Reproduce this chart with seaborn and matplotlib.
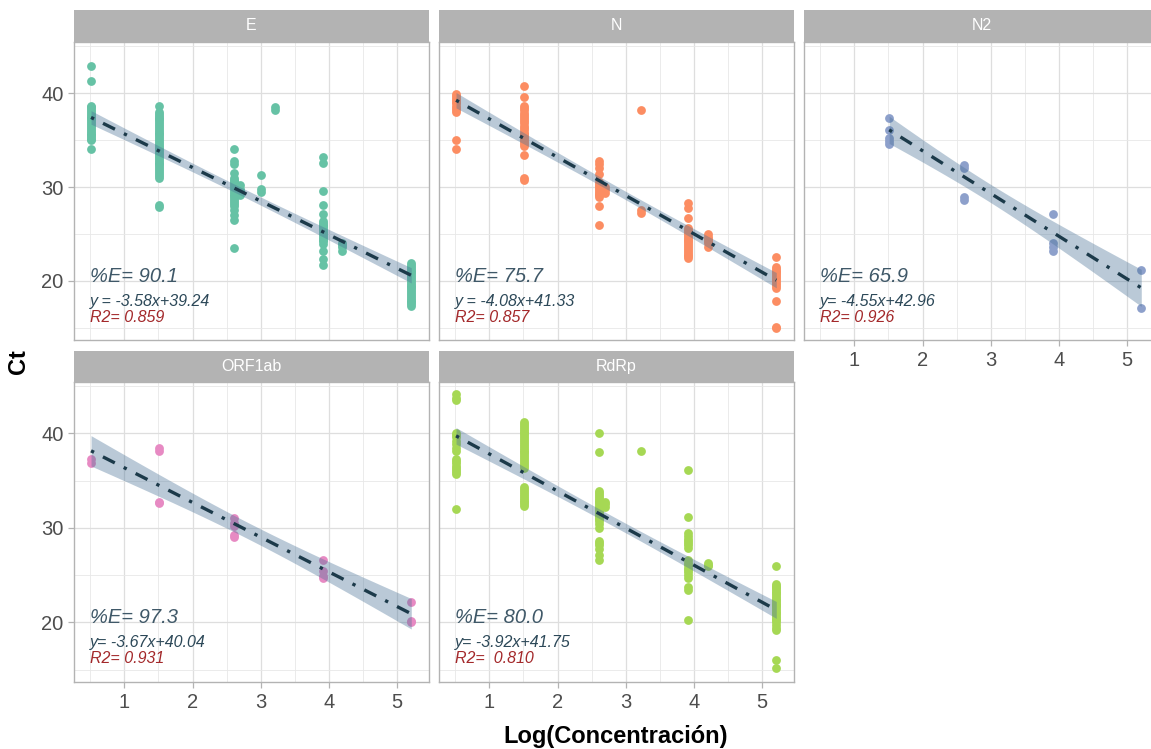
import numpy as np
import pandas as pd
import matplotlib
matplotlib.use("Agg")
import matplotlib.pyplot as plt
import seaborn as sns

# ---------------------------------------------------------------- data
GENES = ["E", "N", "N2", "ORF1ab", "RdRp"]
COLORS = ["#66C2A5", "#FC8D62", "#8DA0CB", "#E78AC3", "#A6D854"]

# Ct readings grouped by log10 concentration
E_CT = {
    0.51: [42.9, 41.3, 38.6, 38.5, 38.3, 38.1, 37.9, 37.7, 37.5, 37.3, 37.1,
           36.9, 36.7, 36.5, 36.3, 36.1, 35.9, 35.7, 35.5, 35.3, 35.1, 35.0,
           34.1],
    1.51: [38.6, 38.0, 37.8, 37.6, 37.4, 37.2, 37.0, 36.8, 36.6, 36.4, 36.2,
           36.0, 35.8, 35.6, 35.4, 35.2, 35.0, 34.8, 34.6, 34.4, 34.2, 34.0,
           33.8, 33.6, 33.4, 33.2, 33.0, 32.8, 32.6, 32.4, 32.2, 32.0, 31.8,
           31.6, 31.4, 31.2, 31.0, 28.1, 27.9],
    2.61: [34.1, 32.8, 32.4, 31.5, 31.0, 30.8, 30.6, 30.4, 30.2, 30.0, 29.8,
           29.6, 29.4, 29.2, 29.0, 28.8, 28.6, 28.4, 28.2, 28.0, 27.6, 27.0,
           26.5, 23.5],
    2.69: [30.2, 29.8, 29.6, 29.2],
    3.00: [31.3, 29.8, 29.5],
    3.21: [38.5, 38.2],
    3.91: [33.2, 32.6, 29.6, 28.1, 27.1, 26.4, 26.2, 26.0, 25.8, 25.6, 25.4,
           25.2, 25.0, 24.8, 24.6, 24.4, 24.2, 23.9, 23.2, 22.3, 21.7],
    4.20: [24.0, 23.8, 23.6, 23.2],
    5.21: [21.9, 21.7, 21.5, 21.3, 21.1, 20.9, 20.7, 20.5, 20.3, 20.1, 19.9,
           19.7, 19.5, 19.3, 19.1, 18.9, 18.7, 18.5, 18.3, 18.1, 17.9, 17.7,
           17.5, 17.3],
}
N_CT = {
    0.51: [39.9, 39.7, 39.5, 39.3, 39.1, 38.9, 38.6, 38.4, 38.2, 38.0, 35.0,
           34.1],
    1.51: [40.8, 39.6, 38.6, 38.4, 38.2, 37.9, 37.7, 37.5, 37.2, 37.0, 36.8,
           36.5, 36.3, 36.1, 35.8, 35.6, 35.4, 35.2, 35.0, 34.8, 34.6, 34.4,
           33.4, 31.0, 30.7],
    2.61: [32.8, 32.4, 32.0, 31.4, 30.5, 30.3, 30.1, 29.9, 29.7, 29.5, 29.3,
           29.1, 28.9, 28.0, 25.9],
    2.69: [30.0, 29.7, 29.4],
    3.22: [38.2, 27.6, 27.2],
    3.91: [28.3, 27.8, 26.7, 25.6, 25.4, 25.2, 25.0, 24.8, 24.6, 24.4, 24.2,
           24.0, 23.8, 23.6, 23.4, 23.2, 23.0, 22.8, 22.6, 22.4],
    4.21: [25.0, 24.7, 24.5, 24.2, 24.0, 23.6],
    5.21: [22.5, 21.5, 21.3, 21.1, 20.9, 20.7, 20.5, 20.3, 20.1, 19.9, 19.7,
           19.5, 19.2, 17.9, 15.1, 15.0],
}
N2_CT = {
    1.51: [37.4, 36.1, 35.2, 34.9, 34.6],
    2.61: [32.3, 32.0, 28.9, 28.6],
    3.91: [27.1, 24.0, 23.6, 23.2],
    5.21: [21.2, 17.1],
}
ORF1AB_CT = {
    0.51: [37.3, 36.9],
    1.51: [38.5, 38.1, 32.8, 32.6],
    2.61: [31.1, 30.5, 30.2, 29.3, 29.0],
    3.91: [26.6, 25.4, 24.9, 24.7],
    5.21: [22.2, 20.2, 20.0],
}
RDRP_CT = {
    0.51: [44.2, 43.8, 43.5, 40.0, 39.8, 39.6, 39.2, 38.9, 38.5, 38.2, 37.3,
           37.1, 36.9, 36.6, 36.4, 36.1, 35.9, 35.7, 32.0],
    1.51: [41.2, 41.0, 40.8, 40.6, 40.4, 40.2, 40.0, 39.8, 39.6, 39.4, 39.2,
           39.0, 38.8, 38.6, 38.4, 38.2, 38.0, 37.8, 37.6, 37.4, 37.2, 37.0,
           36.8, 36.6, 36.4, 34.3, 34.1, 33.9, 33.7, 33.5, 33.3, 33.1, 32.9,
           32.7, 32.5, 32.3],
    2.61: [40.0, 38.0, 33.9, 33.7, 33.5, 33.3, 33.1, 32.9, 32.7, 32.5, 32.3,
           32.1, 31.9, 31.7, 31.5, 31.3, 31.1, 30.9, 30.7, 30.4, 30.0, 28.6,
           28.4, 28.2, 27.8, 27.1, 26.6],
    2.69: [32.8, 32.5, 32.2],
    3.22: [38.2],
    3.91: [36.1, 31.2, 29.5, 29.1, 28.8, 28.6, 28.4, 28.2, 27.9, 26.6, 26.3,
           26.1, 25.8, 25.6, 25.3, 25.0, 24.7, 23.8, 23.4, 20.25],
    4.21: [26.3, 26.1, 26.0],
    5.21: [26.0, 24.1, 23.9, 23.8, 23.6, 23.4, 23.2, 23.1, 22.9, 22.7, 22.5,
           22.4, 22.2, 22.0, 21.8, 21.7, 21.5, 21.3, 21.1, 21.0, 20.8, 20.6,
           20.4, 20.3, 20.0, 19.7, 19.4, 19.2, 16.0, 15.2],
}
CT_BY_GENE = [E_CT, N_CT, N2_CT, ORF1AB_CT, RDRP_CT]

# standard curve fits: Ct = slope * log10(conc) + intercept
SLOPES = [-3.58, -4.08, -4.55, -3.67, -3.92]
INTERCEPTS = [39.24, 41.33, 42.96, 40.04, 41.75]
EFF_LABELS = ["%E= 90.1", "%E= 75.7", "%E= 65.9", "%E= 97.3", "%E= 80.0"]
EQ_LABELS = ["y = -3.58x+39.24", "y = -4.08x+41.33", "y= -4.55x+42.96",
             "y= -3.67x+40.04", "y= -3.92x+41.75"]
R2_LABELS = ["R2= 0.859", "R2= 0.857", "R2= 0.926", "R2= 0.931", "R2=  0.810"]

X_TICKS = [1, 2, 3, 4, 5]
Y_TICKS = [20, 30, 40]
X_LABEL = "Log(Concentración)"
Y_LABEL = "Ct"

# ---------------------------------------------------------------- style
sns.set_theme(style="white")
plt.rcParams["font.family"] = ["Liberation Sans", "DejaVu Sans"]

W, H = 1151, 749
fig = plt.figure(figsize=(W / 100, H / 100), dpi=100)


def box(left, top, right, bottom):
    return [left / W, 1 - bottom / H, (right - left) / W, (bottom - top) / H]


COL_LEFT = [74, 439, 804]
PANEL_W = 355
ROWS = [(10, 42, 340), (351, 382, 682)]   # strip top, panel top, panel bottom

LINE_COLOR = "#1c3a4a"
BAND_COLOR = "#4a7398"
GRID = "#DEDEDE"
FRAME = "#B3B3B3"


def t_quantile(df):
    z = 1.959964
    return (z + (z ** 3 + z) / (4 * df)
            + (5 * z ** 5 + 16 * z ** 3 + 3 * z) / (96 * df ** 2))


for i, gene in enumerate(GENES):
    row, col = divmod(i, 3)
    s_top, p_top, p_bot = ROWS[row]
    left = COL_LEFT[col]

    # facet strip
    sax = fig.add_axes(box(left, s_top, left + PANEL_W, p_top))
    sax.set_facecolor(FRAME)
    sax.set_xticks([]); sax.set_yticks([])
    for sp in sax.spines.values():
        sp.set_visible(False)
    sax.text(0.5, 0.5, gene, color="white", fontsize=11.5,
             ha="center", va="center", transform=sax.transAxes)

    ax = fig.add_axes(box(left, p_top, left + PANEL_W, p_bot))
    ct = CT_BY_GENE[i]
    df = pd.DataFrame([(x, y) for x, ys in ct.items() for y in ys],
                      columns=["logc", "ct"])

    sns.scatterplot(data=df, x="logc", y="ct", color=COLORS[i], s=40,
                    linewidth=0, ax=ax, zorder=3)

    # fitted line with 95% confidence band
    b, a = SLOPES[i], INTERCEPTS[i]
    x = df["logc"].to_numpy(); y = df["ct"].to_numpy()
    n = len(x)
    resid = y - (a + b * x)
    s = np.sqrt(np.sum(resid ** 2) / (n - 2))
    sxx = np.sum((x - x.mean()) ** 2)
    xs = np.linspace(x.min(), x.max(), 100)
    fit = a + b * xs
    half = t_quantile(n - 2) * s * np.sqrt(1 / n + (xs - x.mean()) ** 2 / sxx)
    ax.fill_between(xs, fit - half, fit + half, color=BAND_COLOR, alpha=0.38,
                    linewidth=0, zorder=4)
    ax.plot(xs, fit, color=LINE_COLOR, lw=2.4, linestyle=(0, (1, 3, 4, 3)),
            zorder=5)

    ax.text(0.5, 20.5, EFF_LABELS[i], fontsize=14.5, style="italic",
            color="#3f5868", ha="left", va="center", zorder=6)
    ax.text(0.5, 17.85, EQ_LABELS[i], fontsize=11.5, style="italic",
            color="#2c4858", ha="left", va="center", zorder=6)
    ax.text(0.5, 16.15, R2_LABELS[i], fontsize=11.5, style="italic",
            color="#a3282a", ha="left", va="center", zorder=6)

    ax.set_xlim(0.26, 5.47)
    ax.set_ylim(13.7, 45.45)
    ax.set_xticks(X_TICKS)
    ax.set_xticks([0.5, 1.5, 2.5, 3.5, 4.5], minor=True)
    ax.set_yticks(Y_TICKS)
    ax.set_yticks([15, 25, 35, 45], minor=True)
    ax.grid(which="major", color=GRID, lw=0.9)
    ax.grid(which="minor", color="#E8E8E8", lw=0.6)
    ax.set_axisbelow(True)
    for sp in ax.spines.values():
        sp.set_color(FRAME)
        sp.set_linewidth(1.0)
    ax.set_xlabel(""); ax.set_ylabel("")

    show_x = row == 1 or col == 2
    show_y = col == 0
    ax.tick_params(which="minor", length=0)
    ax.tick_params(axis="x", which="major", bottom=show_x, labelbottom=show_x,
                   length=4, width=0.9, color=FRAME, labelcolor="#4D4D4D",
                   labelsize=14.5, pad=4)
    ax.tick_params(axis="y", which="major", left=show_y, labelleft=show_y,
                   length=4, width=0.9, color=FRAME, labelcolor="#4D4D4D",
                   labelsize=14.5, pad=3.5)

fig.text(616 / W, 1 - 736 / H, X_LABEL, fontsize=17, fontweight="bold",
         ha="center", va="center", color="black")
fig.text(18 / W, 1 - 362 / H, Y_LABEL, fontsize=17, fontweight="bold",
         rotation=90, ha="center", va="center", color="black")

fig.savefig("out.png", dpi=100)
